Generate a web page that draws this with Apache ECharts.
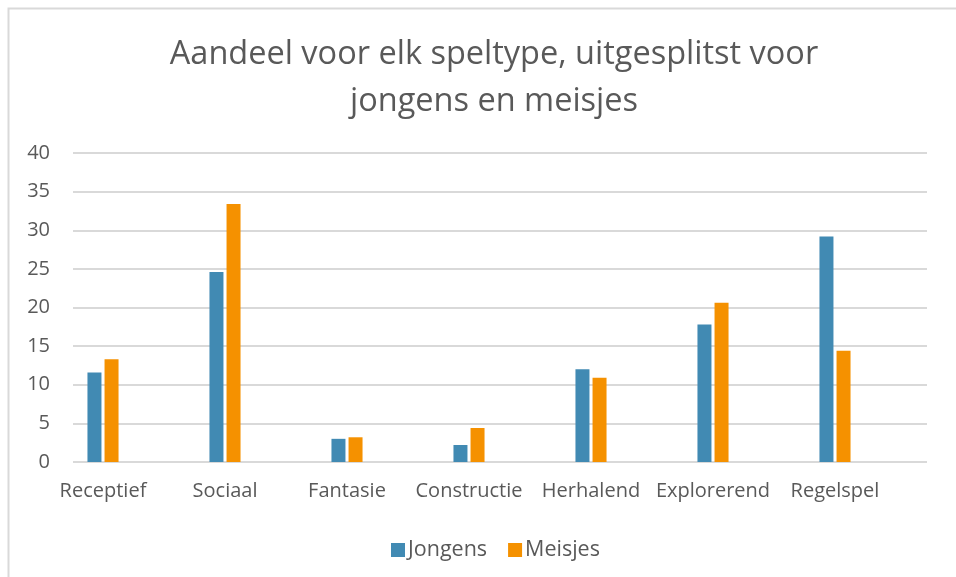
<!DOCTYPE html>
<html>
<head>
<meta charset="utf-8">
<title>Aandeel voor elk speltype</title>
<script src="https://cdn.jsdelivr.net/npm/echarts@6/dist/echarts.min.js"></script>
<style>
    html, body { margin: 0; padding: 0; background: #fff; }
    #chart { width: 956px; height: 577px; }
</style>
</head>
<body>
<div id="chart"></div>
<script>
var categories = ['Receptief', 'Sociaal', 'Fantasie', 'Constructie', 'Herhalend', 'Explorerend', 'Regelspel'];
var jongens = [11.6, 24.6, 3.0, 2.2, 12.0, 17.8, 29.2];
var meisjes = [13.3, 33.4, 3.2, 4.4, 10.9, 20.6, 14.4];
var seriesNames = ['Jongens', 'Meisjes'];
var yTicks = [0, 5, 10, 15, 20, 25, 30, 35, 40];

var fontFam = '"Open Sans", "Segoe UI", sans-serif';
var textColor = '#595959';
var gridColor = '#d9d9d9';

var myChart = echarts.init(document.getElementById('chart'), null, {renderer: 'canvas'});

myChart.setOption({
    backgroundColor: '#ffffff',
    animation: false,
    color: ['#418ab3', '#f59100'],
    title: {
        text: 'Aandeel voor elk speltype, uitgesplitst voor\njongens en meisjes',
        left: 489,
        top: 26,
        textAlign: 'center',
        textStyle: {
            fontFamily: fontFam,
            fontSize: 32.5,
            fontWeight: 'normal',
            lineHeight: 47,
            color: textColor
        }
    },
    legend: {
        data: seriesNames,
        left: 386,
        top: 534,
        itemWidth: 14,
        itemHeight: 14,
        itemGap: 21,
        icon: 'rect',
        textStyle: {
            fontFamily: fontFam,
            fontSize: 21.5,
            color: textColor,
            padding: [0, 0, 0, -2]
        }
    },
    graphic: [{
        type: 'rect',
        shape: {x: 8.5, y: 8.5, width: 960, height: 580},
        style: {fill: 'none', stroke: gridColor, lineWidth: 2},
        silent: true
    }],
    grid: [
        {left: 73, right: 29, top: 153, bottom: 115},
        {left: 42, right: 60, top: 153, bottom: 115}
    ],
    xAxis: [
        {gridIndex: 0, type: 'value', show: false, min: 0, max: 1},
        {
            gridIndex: 1,
            type: 'category',
            data: categories,
            axisLine: {show: false},
            axisTick: {show: false},
            axisLabel: {
                interval: 0,
                margin: 19,
                fontFamily: fontFam,
                fontSize: 20,
                color: textColor
            }
        }
    ],
    yAxis: [
        {
            gridIndex: 0,
            type: 'value',
            min: yTicks[0],
            max: yTicks[yTicks.length - 1],
            interval: 5,
            axisLine: {show: false},
            axisTick: {show: false},
            axisLabel: {
                margin: 23,
                fontFamily: fontFam,
                fontSize: 20,
                color: textColor
            },
            splitLine: {lineStyle: {color: gridColor, width: 2}}
        },
        {
            gridIndex: 1,
            type: 'value',
            min: yTicks[0],
            max: yTicks[yTicks.length - 1],
            interval: 5,
            show: false
        }
    ],
    series: [
        {
            name: seriesNames[0],
            type: 'bar',
            xAxisIndex: 1,
            yAxisIndex: 1,
            data: jongens,
            barWidth: 14,
            barGap: '22%'
        },
        {
            name: seriesNames[1],
            type: 'bar',
            xAxisIndex: 1,
            yAxisIndex: 1,
            data: meisjes,
            barWidth: 14,
            barGap: '22%'
        }
    ]
});
</script>
</body>
</html>
